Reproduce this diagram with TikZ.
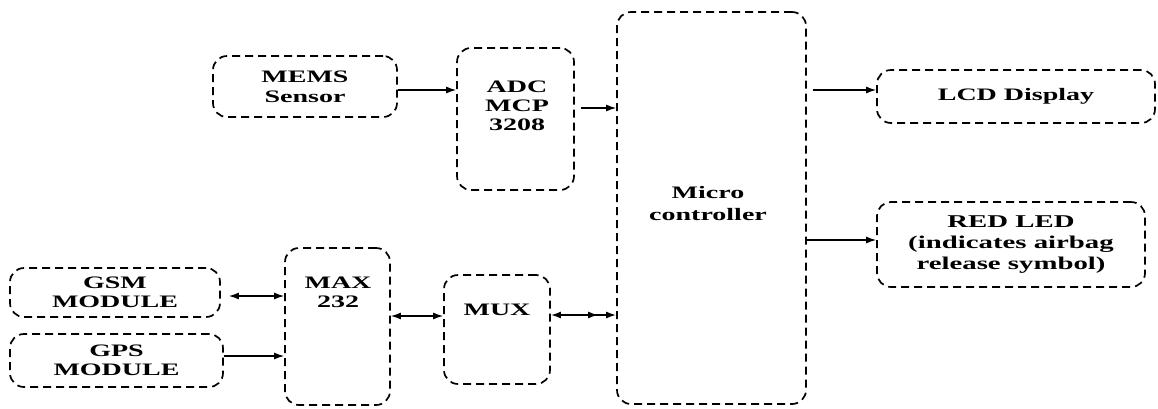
\documentclass[tikz,border=0pt]{standalone}
\usepackage{fontspec}
\setmainfont{Liberation Serif}[FakeStretch=1.6]
\usetikzlibrary{arrows.meta,calc}
\begin{document}
\begin{tikzpicture}[x=1pt,y=-1pt,
  box/.style={draw, dash pattern=on 8pt off 5pt, rounded corners=14pt, line width=1.7pt, inner sep=0pt, align=center, font=\bfseries\fontsize{17.5}{20}\selectfont},
  lbl/.style={inner sep=0pt, align=center, font=\bfseries\fontsize{17.5}{20}\selectfont},
  conn/.style={line width=1.3pt},
  >={Latex[length=10pt,width=7pt]}]
\useasboundingbox (0,0) rectangle (1158,408);
% boxes
\node[box, minimum width=184pt, minimum height=61pt] (mems) at (305,86.5) {MEMS\\Sensor};
\node[box, minimum width=117pt, minimum height=142pt] (adc) at (515.5,119) {};
\node[lbl] (adct) at (517,106) {ADC\\[-1pt]MCP\\[-1pt]3208};
\node[box, minimum width=189pt, minimum height=392pt] (micro) at (711.5,208) {};
\node[lbl, font=\bfseries\fontsize{17.5}{22}\selectfont] (microt) at (708,204) {Micro\\controller};
\node[box, minimum width=278pt, minimum height=53pt] (lcd) at (1016,96.5) {LCD Display};
\node[box, minimum width=268pt, minimum height=85pt, font=\bfseries\fontsize{18}{21}\selectfont] (led) at (1011,244.5) {RED LED\\(indicates airbag\\release symbol)};
\node[box, minimum width=210pt, minimum height=49pt] (gsm) at (115,292.5) {GSM\\[-1pt]MODULE};
\node[box, minimum width=213pt, minimum height=53pt] (gps) at (116.5,360.5) {GPS\\[-1pt]MODULE};
\node[box, minimum width=105pt, minimum height=157pt] (max) at (337.5,326.5) {};
\node[lbl] (maxt) at (338,292) {MAX\\[-1pt]232};
\node[box, minimum width=106pt, minimum height=109pt] (mux) at (497,329.5) {};
\node[lbl] (muxt) at (497,310) {MUX};
% connector heights
\coordinate (y1) at (0,90);
\coordinate (y2) at (0,108);
\coordinate (y3) at (0,90);
\coordinate (y4) at (0,240);
\coordinate (y5) at (0,296);
\coordinate (y6) at (0,356);
\coordinate (y7) at (0,316);
\coordinate (y8) at (0,315);
% connectors
\draw[conn,->] (mems.east |- y1) -- (adc.west |- y1);
\draw[conn,->,shorten <=6pt] (adc.east |- y2) -- (micro.west |- y2);
\draw[conn,->,shorten <=6pt] (micro.east |- y3) -- (lcd.west |- y3);
\draw[conn,->] (micro.east |- y4) -- (led.west |- y4);
\draw[conn,<->,shorten <=8pt] (gsm.east |- y5) -- (max.west |- y5);
\draw[conn,->] (gps.east |- y6) -- (max.west |- y6);
\draw[conn,<->] (max.east |- y7) -- (mux.west |- y7);
\draw[conn,line width=1.6pt,{Latex[length=10pt,width=7pt]}-{Latex[length=10pt,width=7pt,sep=8pt]Latex[length=10pt,width=7pt]}] (mux.east |- y8) -- (micro.west |- y8);
\end{tikzpicture}
\end{document}
